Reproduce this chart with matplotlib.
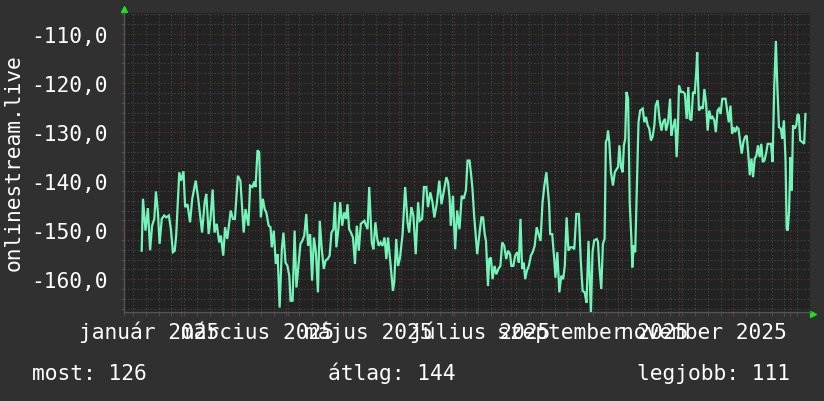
import matplotlib.pyplot as plt
import matplotlib.transforms as mtransforms

# days counted from 2025-01-01 (0 = jan 1), values as drawn on the graph
days = [9.7, 10.4, 11.8, 13.1, 14.3, 15.4, 16.6, 17.5, 18.6, 19.5, 20.7, 22.0, 23.2, 24.6, 25.7, 26.8, 27.8, 28.6,
        29.3, 30.3, 31.3, 32.6, 33.5, 34.8, 36.2, 37.4, 39.3, 40.6, 41.7, 42.8, 44.2, 45.1, 46.4, 47.4, 48.6, 49.6,
        50.8, 52.2, 53.1, 54.4, 55.4, 56.6, 58.5, 59.7, 60.8, 62.4, 63.8, 65.6, 66.6, 68.2,
        69.1, 70.4, 71.4, 72.1, 73.2, 74.1, 75.0, 76.1, 77.1, 78.0, 79.3, 80.3, 81.0, 82.1, 83.2, 84.2, 85.3, 86.5,
        87.4, 88.5, 89.6, 90.6, 91.3, 92.4, 93.5, 94.5, 95.6, 96.7, 97.7, 98.8, 99.9, 100.9, 102.0, 103.1, 104.1,
        105.2, 106.3, 107.3, 108.4, 109.5, 110.5, 111.6, 112.7, 113.7, 114.8, 115.6, 116.4, 117.5, 118.5, 119.6,
        120.7, 121.7, 122.5, 123.4, 124.4, 125.5, 126.6, 127.6, 128.7, 129.8, 130.8,
        131.7, 133.5, 134.4, 135.8, 136.7, 137.8, 138.8, 139.6, 140.6, 141.7, 142.8, 143.8, 144.7, 146.0, 147.4,
        148.1, 149.2, 150.2, 151.3, 152.7, 154.1, 155.4, 156.3, 157.5, 158.6, 159.9, 161.2, 162.1, 163.4, 164.4,
        165.7, 166.6, 167.9, 169.1, 170.1, 171.4, 172.8, 174.0, 175.5, 176.7, 177.6, 178.5, 179.1, 180.3, 181.5,
        182.6, 183.9, 185.1, 186.2, 187.4, 188.3, 189.4, 190.4, 191.0,
        191.9, 192.7, 193.6, 194.9, 195.9, 196.8, 197.7, 198.4, 199.5, 200.2, 201.1, 202.0, 203.1, 204.1, 205.2,
        206.3, 207.3, 208.4, 209.5, 210.5, 211.6, 212.3, 213.4, 214.4, 215.5, 216.4, 217.3, 218.2, 219.1, 219.9,
        220.8, 221.9, 223.0, 224.0, 225.1, 226.2, 227.2, 228.3, 229.4, 230.4, 231.5, 232.2, 233.0, 233.6, 234.7,
        235.8, 236.5, 237.5, 238.6, 239.7, 240.7, 241.6, 242.6, 243.6, 244.7, 245.8, 246.8, 247.9, 249.3, 250.3,
        251.4, 252.5, 253.5, 254.6,
        255.9, 256.8, 257.7, 259.1, 259.8, 260.5, 261.6, 262.5, 263.4, 264.1, 264.8, 265.3, 266.0, 266.9, 268.0,
        269.0, 270.1, 270.8, 271.5, 272.4, 273.3, 274.0, 274.7, 275.4, 276.3, 277.2, 278.1, 278.6, 279.4, 280.2,
        281.1, 282.0, 282.9, 284.3, 285.2, 286.1, 287.0, 287.9, 288.8, 289.7, 290.7, 291.4, 292.5, 293.6, 294.6,
        295.4, 296.5, 297.1, 298.2, 299.3, 300.0, 300.7, 301.4, 302.1, 302.9, 303.6, 304.2, 305.3, 306.4, 307.4,
        308.4, 309.3, 310.1, 311.0, 311.9, 312.8, 313.7, 314.2,
        315.1, 316.4, 317.3, 318.1, 319.0, 319.9, 320.8, 321.7, 322.6, 323.5, 324.4, 325.3, 326.1, 327.0, 327.9,
        328.8, 329.7, 330.6, 331.5, 332.4, 333.3, 334.1, 335.0, 335.9, 336.8, 337.7, 338.6, 339.5, 340.4, 341.3,
        342.1, 343.0, 343.9, 344.8, 345.7, 346.6, 347.5, 348.4, 349.3, 350.1, 351.0, 351.9, 352.8, 353.7, 354.6,
        355.5, 356.4, 357.3, 358.1, 359.0, 360.0, 360.8, 361.7, 362.6, 363.2, 363.8, 364.5, 365.3, 366.0, 366.7,
        367.6, 368.5, 369.2, 369.9, 370.6, 371.7, 372.8, 373.5]
values = [-154.2, -143.6, -150.1, -145.5, -154.1, -149.1, -147.7, -142.1, -146.4, -152.8, -147.7, -147.0, -147.4,
          -147.0, -149.8, -154.5, -154.2, -151.1, -145.7, -138.2, -139.9, -138.0, -145.3, -144.7, -148.4, -143.6,
          -139.9, -143.3, -147.0, -150.5, -144.3, -142.6, -150.8, -147.7, -141.7, -150.5, -148.7, -152.5, -151.1,
          -155.2, -149.4, -151.8, -146.0, -147.7, -147.7, -138.9, -139.9, -150.5, -145.7, -149.1,
          -140.9, -141.2, -140.1, -141.2, -133.7, -134.1, -147.4, -143.6, -145.7, -146.4, -149.1, -149.4, -153.5,
          -150.1, -156.9, -154.9, -165.8, -153.9, -150.5, -156.6, -157.3, -159.3, -164.4, -164.4, -150.1, -161.7,
          -157.3, -152.8, -152.2, -151.1, -146.7, -153.2, -150.8, -160.3, -151.5, -154.5, -162.7, -148.1, -153.9,
          -157.9, -156.2, -155.9, -155.2, -150.5, -149.8, -144.3, -153.5, -149.8, -144.3, -149.1, -146.4, -147.7,
          -144.7, -149.8, -150.5, -151.5, -156.9, -149.1, -154.2, -148.7, -148.4,
          -148.1, -149.8, -141.2, -152.5, -153.9, -148.4, -151.8, -153.2, -152.5, -153.2, -151.5, -155.9, -151.5,
          -156.6, -162.4, -160.7, -151.8, -157.3, -155.6, -150.8, -141.2, -148.4, -150.5, -145.3, -147.0, -154.9,
          -144.3, -148.1, -147.7, -141.2, -141.2, -145.3, -142.3, -144.3, -147.4, -144.7, -139.9, -144.7, -141.6,
          -139.2, -140.2, -143.6, -149.1, -143.0, -153.9, -146.0, -149.8, -143.0, -143.6, -141.9, -135.8, -135.8,
          -139.2, -141.6,
          -147.0, -150.8, -154.9, -150.5, -147.4, -147.4, -150.8, -152.2, -161.4, -155.9, -155.6, -160.0, -157.3,
          -159.0, -157.9, -157.3, -152.5, -153.2, -155.9, -154.2, -154.9, -157.3, -157.3, -155.2, -154.5, -156.6,
          -147.7, -157.9, -156.6, -160.0, -158.3, -157.3, -155.2, -154.5, -153.2, -149.4, -150.8, -152.2, -144.3,
          -140.9, -138.2, -141.2, -144.7, -150.8, -150.8, -155.9, -159.7, -154.5, -162.7, -159.3, -160.0, -157.3,
          -147.4, -154.2, -153.5, -153.5, -153.9, -146.7, -146.7, -155.9, -162.4, -162.7, -164.8, -152.2,
          -167.0, -154.5, -152.1, -151.8, -152.4, -157.2, -162.0, -152.8, -151.8, -132.0, -131.4, -129.7, -132.0,
          -138.2, -140.9, -138.2, -137.5, -137.1, -132.7, -137.1, -138.2, -132.7, -131.4, -121.8, -123.2, -144.6,
          -151.8, -157.6, -153.1, -154.5, -141.6, -128.0, -125.6, -125.2, -128.0, -126.9, -128.6, -129.3, -131.7,
          -131.0, -128.6, -124.6, -123.5, -127.6, -129.7, -128.0, -127.3, -129.7, -128.0, -123.2, -130.7, -129.3,
          -128.3, -127.3, -135.1, -129.3, -120.5, -121.8, -121.8, -122.2, -127.3, -120.8, -127.3, -127.6, -121.8,
          -122.2, -117.4, -113.7,
          -125.6, -124.9, -125.2, -121.2, -123.9, -129.7, -125.6, -127.3, -126.9, -127.6, -130.0, -125.6, -125.2,
          -126.3, -123.2, -123.2, -123.2, -125.6, -128.0, -124.6, -130.3, -129.0, -130.0, -129.0, -129.3, -132.0,
          -134.4, -132.0, -131.0, -130.7, -134.1, -138.8, -135.4, -139.2, -135.4, -134.8, -132.7, -135.1, -132.4,
          -136.1, -135.8, -134.4, -132.4, -132.4, -132.4, -136.1, -120.8, -111.4, -120.8, -129.0, -129.3, -131.4,
          -127.6, -135.8, -149.7, -150.1, -146.3, -135.1, -141.9, -128.6, -129.3, -128.6, -126.3, -126.6, -131.7,
          -132.0, -132.4, -126.3]

month_starts = [0, 31, 59, 90, 120, 151, 181, 212, 243, 273, 304, 334, 365]
week_starts = list(range(5, 380, 7))  # hetfok
label_days = [14, 73, 134, 195, 257, 318]
label_texts = ['január 2025', 'március 2025', 'május 2025', 'július 2025', 'szeptember 2025', 'november 2025']
y_ticks = [-160, -150, -140, -130, -120, -110]
y_minor = list(range(-166, -104, 2))
legend_items = [('most', 126), ('átlag', 144), ('legjobb', 111)]
legend_x = [32, 328, 637]

plt.rcParams['font.family'] = ['DejaVu Sans Mono']
fs = 15.3
W, H = 824, 402

fig = plt.figure(figsize=(W / 100, H / 100), dpi=100, facecolor='#303030')
ax = fig.add_axes([124 / W, 1 - 313 / H, 686 / W, 299 / H])
ax.set_facecolor('#222222')

ax.plot(days, values, color='#74f4b8', linewidth=1.6, solid_joinstyle='miter', zorder=3)

ax.set_xlim(9.0, 375.1)
ax.set_ylim(-166.7, -105.7)

# racs: piros a fo vonalak, szurke pontozott a tobbi
ax.set_xticks(month_starts)
ax.set_xticks(week_starts, minor=True)
ax.set_yticks(y_ticks)
ax.set_yticks(y_minor, minor=True)
ax.grid(which='minor', color='#4c4c4c', linestyle=(0, (1, 2)), linewidth=0.8)
ax.grid(which='major', color='#6e3030', linestyle=(0, (1, 2)), linewidth=0.8)
ax.set_axisbelow(True)

ax.set_xticklabels([])
ax.set_yticklabels([f'{v:.1f}'.replace('.', ',') for v in y_ticks])
ax.tick_params(axis='y', which='major', colors='#6e3030', labelcolor='white', labelsize=fs, length=2, pad=9.5)
ax.tick_params(axis='y', which='minor', colors='#555555', length=2)
ax.tick_params(axis='x', which='major', colors='#7a3535', length=3)
ax.tick_params(axis='x', which='minor', colors='#555555', length=3)

for s in ['top', 'right']:
    ax.spines[s].set_visible(False)
for s in ['left', 'bottom']:
    ax.spines[s].set_color('#555555')
    ax.spines[s].set_linewidth(1.0)

# honap feliratok a honap kozepen
trans = mtransforms.blended_transform_factory(ax.transData, ax.transAxes)
for d, t in zip(label_days, label_texts):
    ax.text(d, -0.087, t, transform=trans, ha='center', va='baseline', color='white', fontsize=fs)

# zold nyilak a tengelyek vegen
ax.plot([0], [1.013], marker='^', color='#1ee01e', markersize=5, transform=ax.transAxes, clip_on=False)
ax.plot([1.004], [-0.007], marker='>', color='#1ee01e', markersize=5, transform=ax.transAxes, clip_on=False)

fig.text(14 / W, 1 - 163 / H, 'onlinestream.live', rotation=90, ha='center', va='center',
         color='white', fontsize=fs)

for (name, val), lx in zip(legend_items, legend_x):
    fig.text(lx / W, 1 - 380 / H, f'{name}: {val}', ha='left', va='baseline', color='white', fontsize=fs)

fig.savefig('out.png', dpi=100, facecolor=fig.get_facecolor())
